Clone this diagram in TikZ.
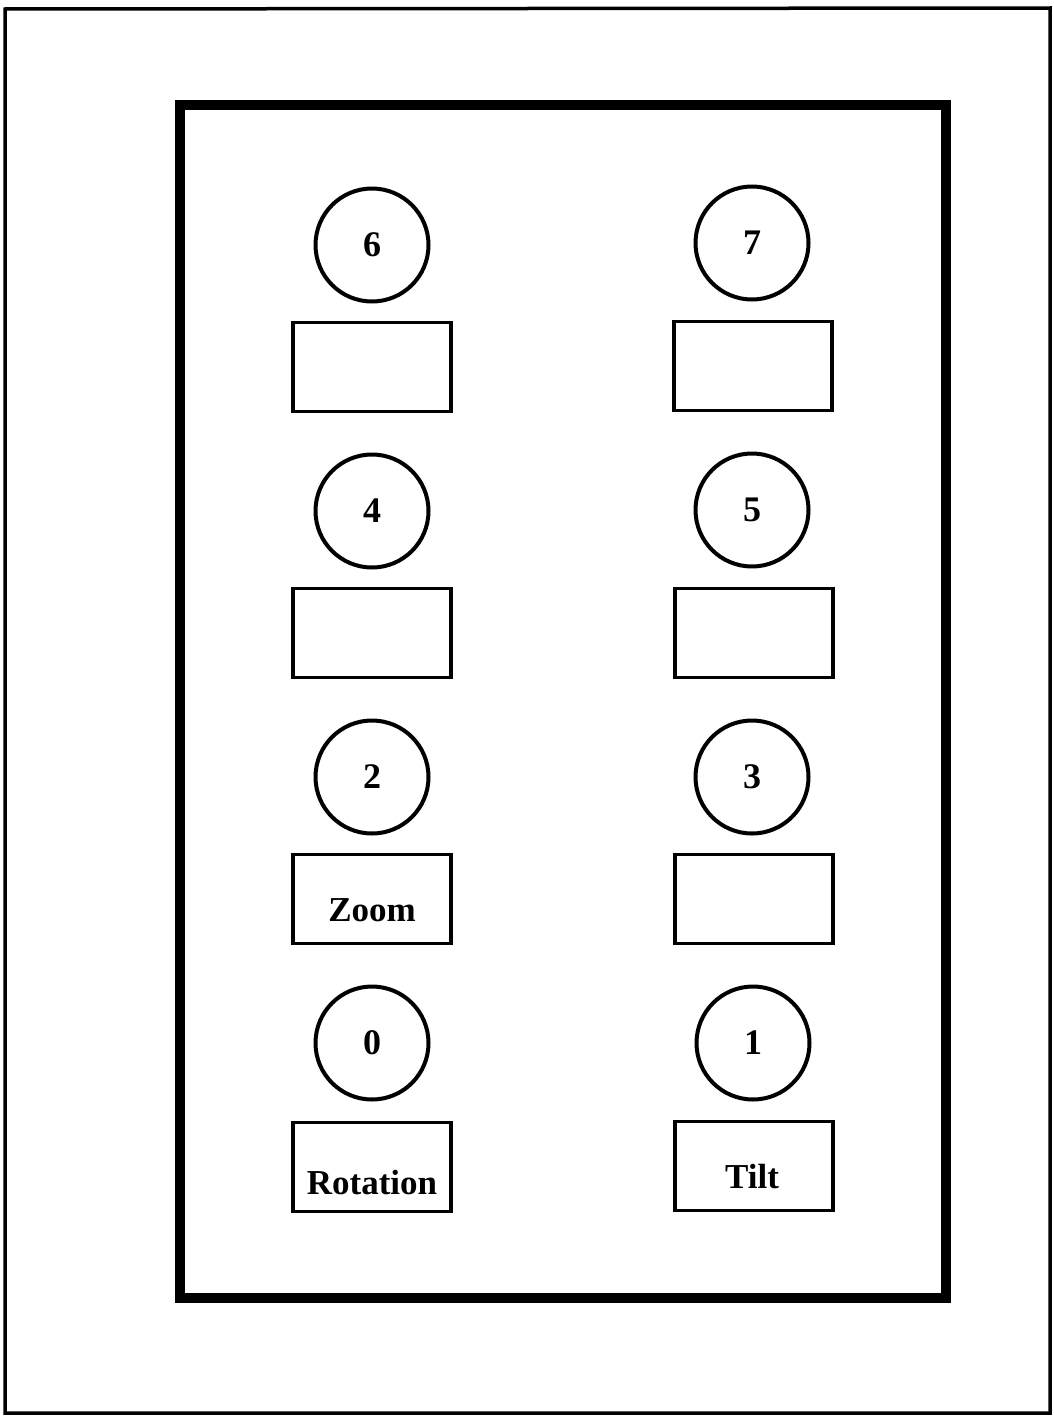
\documentclass[tikz,border=0pt]{standalone}
\usepackage{fontspec}
\setmainfont{Liberation Serif}
\begin{document}
\begin{tikzpicture}[x=1pt,y=-1pt,
  circ/.style={draw,circle,line width=4pt,minimum size=113pt,inner sep=0pt,font=\fontsize{36}{40}\selectfont\bfseries},
  box/.style={draw,rectangle,line width=3.5pt,minimum width=158pt,minimum height=89pt,inner sep=0pt},
  lbl/.style={font=\fontsize{35}{40}\selectfont\bfseries}]
\useasboundingbox (0,0) rectangle (1053,1416);
\draw[line width=3.5pt] (5,9) -- (1050,8) -- (1050,1413) -- (5,1413) -- cycle;
\draw[line width=9.5pt] (180,105) rectangle (946,1298);
% left column
\node[circ] (c6) at (372,245) {6};
\node[box] (b6) at (372,367) {};
\node[circ] (c4) at (372,511) {4};
\node[box] (b4) at (372,633) {};
\node[circ] (c2) at (372,777) {2};
\node[box] (b2) at (372,899) {};
\node[lbl] (t2) at (372,910) {Zoom};
\node[circ] (c0) at (372,1043) {0};
\node[box] (b0) at (372,1167) {};
\node[lbl] (t0) at (372,1183) {Rotation};
% right column
\node[circ] (c7) at (752,243) {7};
\node[box] (b7) at (753,366) {};
\node[circ] (c5) at (752,510) {5};
\node[box] (b5) at (754,633) {};
\node[circ] (c3) at (752,777) {3};
\node[box] (b3) at (754,899) {};
\node[circ] (c1) at (753,1043) {1};
\node[box] (b1) at (754,1166) {};
\node[lbl] (t1) at (752,1177) {Tilt};
\end{tikzpicture}
\end{document}
